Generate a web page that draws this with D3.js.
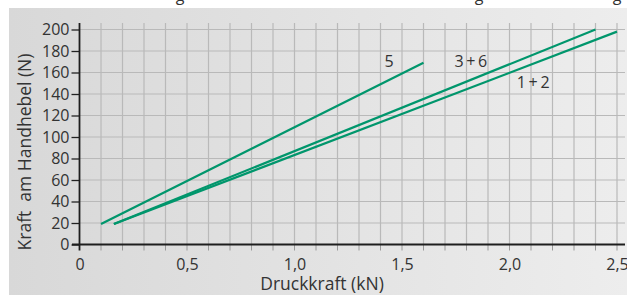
<!DOCTYPE html>
<html>
<head>
<meta charset="utf-8">
<title>Kraft am Handhebel</title>
<style>
  body { margin: 0; background: #fff; }
  svg { display: block; font-family: "Open Sans", "Noto Sans", sans-serif; }
</style>
</head>
<body>
<script src="https://cdn.jsdelivr.net/npm/d3@7"></script>
<script>

var width  = 627;
var height = 295;

// Daten: Druckkraft (kN) -> Kraft am Handhebel (N)
var seriesNames = ["5", "3\u2009+\u20096", "1\u2009+\u20092"];
var seriesX = [[0.10, 1.60], [0.16, 2.40], [0.16, 2.50]];
var seriesY = [[19, 169], [19, 200], [19, 198]];
var labelPos = [[1.44, 165], [1.82, 165], [2.11, 146]];

var xTicks = [0, 0.5, 1.0, 1.5, 2.0, 2.5];
var yTicks = [0, 20, 40, 60, 80, 100, 120, 140, 160, 180, 200];
var xGrid = d3.range(1, 26).map(function(i) { return i / 10; });

var svg = d3.select("body")
			.append("svg")
			.attr("width", width)
			.attr("height", height);

// Hintergrund mit Verlauf
var grad = svg.append("defs").append("linearGradient")
				.attr("id", "bg")
				.attr("x1", "0").attr("x2", "1").attr("y1", "0").attr("y2", "0");
grad.append("stop").attr("offset", "0").attr("stop-color", "#d8d8d8");
grad.append("stop").attr("offset", "1").attr("stop-color", "#ededed");

svg.append("rect")
	.attr("x", 9).attr("y", 8)
	.attr("width", width - 9).attr("height", height - 8)
	.attr("fill", "url(#bg)");

// abgeschnittene Überschrift (nur Unterlängen sichtbar)
svg.selectAll("text.cut")
	.data([180, 479, 617])
	.enter().append("text")
	.attr("class", "cut")
	.attr("x", function(d) { return d; })
	.attr("y", 1)
	.attr("text-anchor", "middle")
	.attr("font-size", 16)
	.attr("fill", "#333")
	.text("g");

var x = d3.scaleLinear().domain([0, 2.5]).range([79.5, 617]);
var y = d3.scaleLinear().domain([0, 200]).range([244.5, 29.5]);

// Gitter
svg.append("g").selectAll("line")
	.data(xGrid)
	.enter().append("line")
	.attr("x1", function(d) { return x(d); })
	.attr("x2", function(d) { return x(d); })
	.attr("y1", 23)
	.attr("y2", y(0))
	.attr("stroke", "#b9b9b9")
	.attr("stroke-width", 1.2);

svg.append("g").selectAll("line")
	.data(yTicks.slice(1))
	.enter().append("line")
	.attr("x1", x(0))
	.attr("x2", 625)
	.attr("y1", function(d) { return y(d); })
	.attr("y2", function(d) { return y(d); })
	.attr("stroke", "#b9b9b9")
	.attr("stroke-width", 1.2);

// x-Achse: kleine Striche alle 0,1
svg.append("g").selectAll("line")
	.data(xGrid)
	.enter().append("line")
	.attr("x1", function(d) { return x(d); })
	.attr("x2", function(d) { return x(d); })
	.attr("y1", y(0))
	.attr("y2", y(0) + 6)
	.attr("stroke", "#9a9a9a")
	.attr("stroke-width", 1);

var xAxis = d3.axisBottom(x)
				.tickValues(xTicks)
				.tickSize(0)
				.tickPadding(14)
				.tickFormat(function(d) { return d === 0 ? "0" : d3.format(".1f")(d).replace(".", ","); });

var gx = svg.append("g")
			.attr("transform", "translate(0," + y(0) + ")")
			.call(xAxis);
gx.select(".domain").remove();
gx.selectAll("text").attr("font-size", 16).attr("fill", "#333").attr("font-family", "Open Sans");

var yAxis = d3.axisLeft(y)
				.tickValues(yTicks)
				.tickSize(8)
				.tickPadding(2)
				.tickFormat(d3.format("d"));

var gy = svg.append("g")
			.attr("transform", "translate(" + x(0) + ",0)")
			.call(yAxis);
gy.select(".domain").remove();
gy.selectAll("line").attr("stroke", "#222").attr("stroke-width", 1.3);
gy.selectAll("text").attr("font-size", 16).attr("fill", "#333").attr("font-family", "Open Sans");

// Achsenlinien
svg.append("line")
	.attr("x1", 72).attr("x2", 625)
	.attr("y1", y(0)).attr("y2", y(0))
	.attr("stroke", "#1e1e1e").attr("stroke-width", 1.8);
svg.append("line")
	.attr("x1", x(0)).attr("x2", x(0))
	.attr("y1", 23).attr("y2", y(0) + 6)
	.attr("stroke", "#1e1e1e").attr("stroke-width", 1.8);

// Kennlinien
var line = d3.line()
			.x(function(d) { return x(d[0]); })
			.y(function(d) { return y(d[1]); });

svg.append("g").selectAll("path")
	.data(seriesNames.map(function(n, i) {
		return seriesX[i].map(function(v, j) { return [v, seriesY[i][j]]; });
	}))
	.enter().append("path")
	.attr("d", line)
	.attr("fill", "none")
	.attr("stroke", "#00966c")
	.attr("stroke-width", 2.2);

svg.append("g").selectAll("text")
	.data(seriesNames)
	.enter().append("text")
	.attr("x", function(d, i) { return x(labelPos[i][0]); })
	.attr("y", function(d, i) { return y(labelPos[i][1]); })
	.attr("text-anchor", "middle")
	.attr("font-size", 16)
	.attr("fill", "#333")
	.text(function(d) { return d; });

// Achsentitel
svg.append("text")
	.attr("x", 322)
	.attr("y", 290)
	.attr("text-anchor", "middle")
	.attr("font-size", 17.5)
	.attr("fill", "#333")
	.text("Druckkraft (kN)");

svg.append("text")
	.attr("transform", "translate(31," + 152 + ") rotate(-90)")
	.attr("text-anchor", "middle")
	.attr("font-size", 17.5)
	.attr("fill", "#333")
	.style("white-space", "pre")
	.text("Kraft  am Handhebel (N)");

</script>
</body>
</html>
